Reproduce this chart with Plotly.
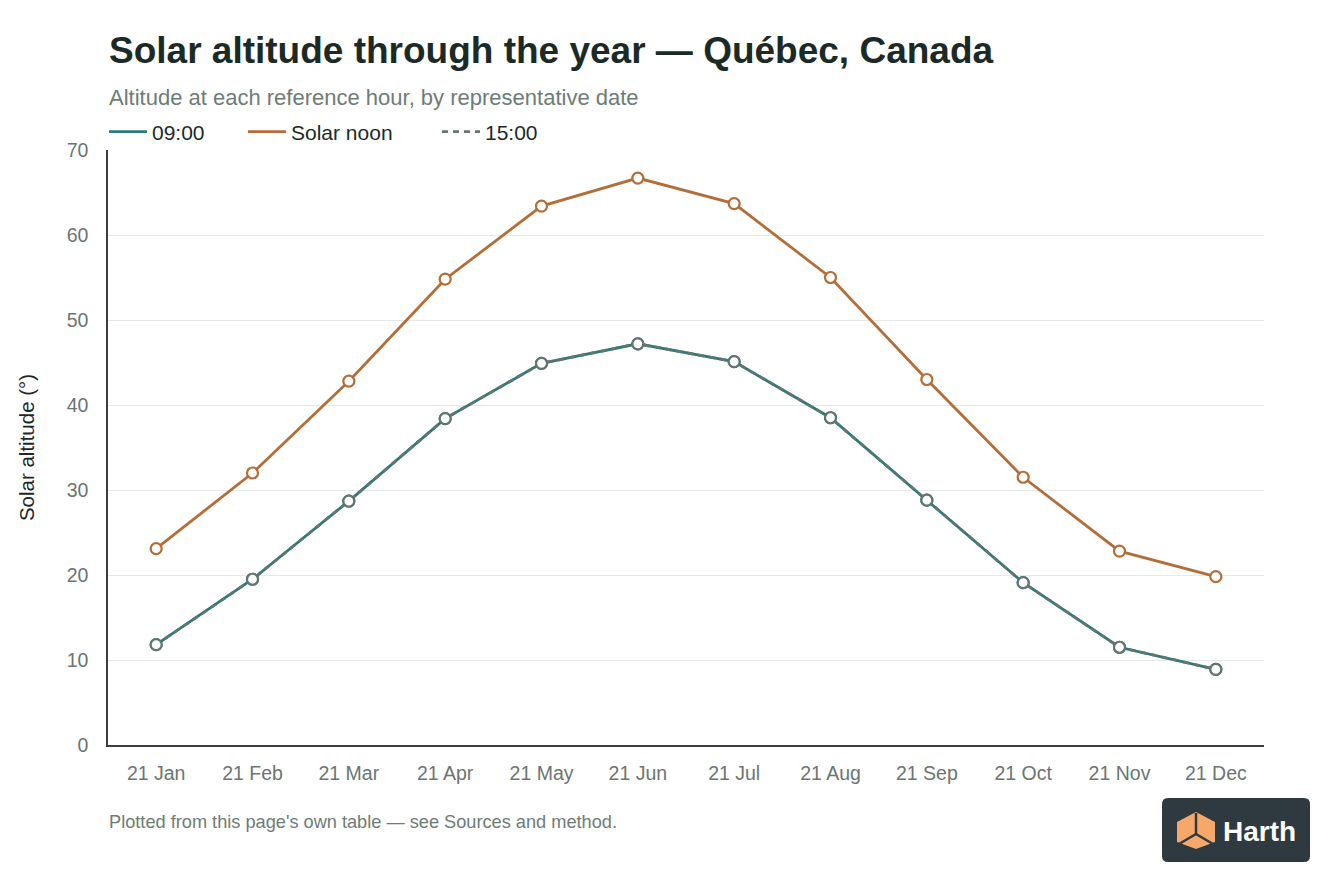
import plotly.graph_objects as go

dates = ["21 Jan", "21 Feb", "21 Mar", "21 Apr", "21 May", "21 Jun",
         "21 Jul", "21 Aug", "21 Sep", "21 Oct", "21 Nov", "21 Dec"]
alt_0900 = [11.8, 19.5, 28.7, 38.4, 44.9, 47.2, 45.1, 38.5, 28.8, 19.1, 11.5, 8.9]
alt_noon = [23.1, 32.0, 42.8, 54.8, 63.4, 66.7, 63.7, 55.0, 43.0, 31.5, 22.8, 19.8]
alt_1500 = [11.8, 19.5, 28.7, 38.4, 44.9, 47.2, 45.1, 38.5, 28.8, 19.1, 11.5, 8.9]
y_ticks = [0, 10, 20, 30, 40, 50, 60, 70]

TEAL = "#2b7b78"
ORANGE = "#b56d37"
GREY = "#627571"
DARK = "#1c2a27"
FONT = "Liberation Sans, Arial, Helvetica, sans-serif"

# page has an 8px body margin; work in screen pixels
W, H = 1328, 880
PX0, PX1, PY0, PY1 = 108, 1264, 150, 745   # plot area in screen px
L = PX0 - 8
R = W - (PX1 - 8)
T = PY0 - 8
B = H - (PY1 - 8)
pw, ph = PX1 - PX0, PY1 - PY0


def px(x):
    return (x - PX0) / pw


def py(y):
    return (PY1 - y) / ph


fig = go.Figure()
series = [("09:00", alt_0900, TEAL, "solid", "legend"),
          ("Solar noon", alt_noon, ORANGE, "solid", "legend2"),
          ("15:00", alt_1500, GREY, "6px,5px", "legend3")]
for name, vals, col, dash, lg in series:
    fig.add_trace(go.Scatter(
        x=dates, y=vals, name=name, mode="lines+markers", showlegend=False,
        line=dict(color=col, width=2.8, dash=dash),
        marker=dict(size=11, color="white", line=dict(color=col, width=2.2)),
    ))
for name, vals, col, dash, lg in series:
    fig.add_trace(go.Scatter(
        x=[None], y=[None], name=name, mode="lines", legend=lg,
        line=dict(color=col, width=2.8, dash=dash),
    ))

shapes = []
# logo box (rounded)
x0, x1, y0, y1, r = 1162, 1310, 798, 862, 6
path = (f"M {px(x0 + r)} {py(y0)} L {px(x1 - r)} {py(y0)} "
        f"Q {px(x1)} {py(y0)} {px(x1)} {py(y0 + r)} L {px(x1)} {py(y1 - r)} "
        f"Q {px(x1)} {py(y1)} {px(x1 - r)} {py(y1)} L {px(x0 + r)} {py(y1)} "
        f"Q {px(x0)} {py(y1)} {px(x0)} {py(y1 - r)} L {px(x0)} {py(y0 + r)} "
        f"Q {px(x0)} {py(y0)} {px(x0 + r)} {py(y0)} Z")
shapes.append(dict(type="path", xref="paper", yref="paper", path=path,
                   fillcolor="#2f3a40", line=dict(width=0), layer="above"))
# cube
hexpts = [(1196, 812), (1215, 822), (1215, 842), (1196, 849), (1177, 842), (1177, 822)]
hp = "M " + " L ".join(f"{px(a)} {py(b)}" for a, b in hexpts) + " Z"
shapes.append(dict(type="path", xref="paper", yref="paper", path=hp,
                   fillcolor="#f6a86b", line=dict(width=0), layer="above"))
for (a, b), (c, d) in [((1196, 813), (1196, 834)), ((1196, 834), (1179, 844)),
                       ((1196, 834), (1213, 844))]:
    shapes.append(dict(type="line", xref="paper", yref="paper",
                       x0=px(a), y0=py(b), x1=px(c), y1=py(d),
                       line=dict(color="#2f3a40", width=2.5), layer="above"))

annotations = [
    dict(text="Solar altitude through the year — Québec, Canada", xref="paper", yref="paper",
         x=px(107), y=py(51), xanchor="left", yanchor="middle", showarrow=False,
         font=dict(size=37, color=DARK, family=FONT, weight="bold")),
    dict(text="Altitude at each reference hour, by representative date", xref="paper", yref="paper",
         x=px(107), y=py(97), xanchor="left", yanchor="middle", showarrow=False,
         font=dict(size=22, color="#6e7c78", family=FONT)),
    dict(text="Plotted from this page's own table — see Sources and method.", xref="paper",
         yref="paper", x=px(107), y=py(822), xanchor="left", yanchor="middle", showarrow=False,
         font=dict(size=18.2, color="#6e7c78", family=FONT)),
    dict(text="<b>Harth</b>", xref="paper", yref="paper", x=px(1221), y=py(831),
         xanchor="left", yanchor="middle", showarrow=False,
         font=dict(size=28, color="white", family=FONT)),
]


def legend_at(xs):
    return dict(orientation="h", x=px(xs), y=py(132), xanchor="left", yanchor="middle",
                font=dict(size=21, color=DARK, family=FONT), itemwidth=38,
                bgcolor="rgba(0,0,0,0)")


fig.update_layout(
    width=W, height=H,
    margin=dict(l=L, r=R, t=T, b=B, autoexpand=False),
    paper_bgcolor="white", plot_bgcolor="white",
    font=dict(family=FONT, color="#6b7572"),
    showlegend=True,
    legend=legend_at(104),
    legend2=legend_at(243),
    legend3=legend_at(437),
    xaxis=dict(type="category", range=[-0.5, 11.5], showgrid=False,
               showline=True, linecolor="#3d3d3d", linewidth=1.5, ticks="",
               tickfont=dict(size=19.5, color="#6b7572"), ticklabelstandoff=10),
    yaxis=dict(range=[0, 70], tickvals=y_ticks, showgrid=True, gridcolor="#e6e9e8",
               gridwidth=1, showline=True, linecolor="#3d3d3d", linewidth=1.5,
               zeroline=False, ticks="", tickfont=dict(size=19.5, color="#6b7572"),
               ticklabelstandoff=14,
               title=dict(text="Solar altitude (°)", font=dict(size=20.5, color=DARK),
                          standoff=26)),
    shapes=shapes,
    annotations=annotations,
)

fig.write_html("out.html")
